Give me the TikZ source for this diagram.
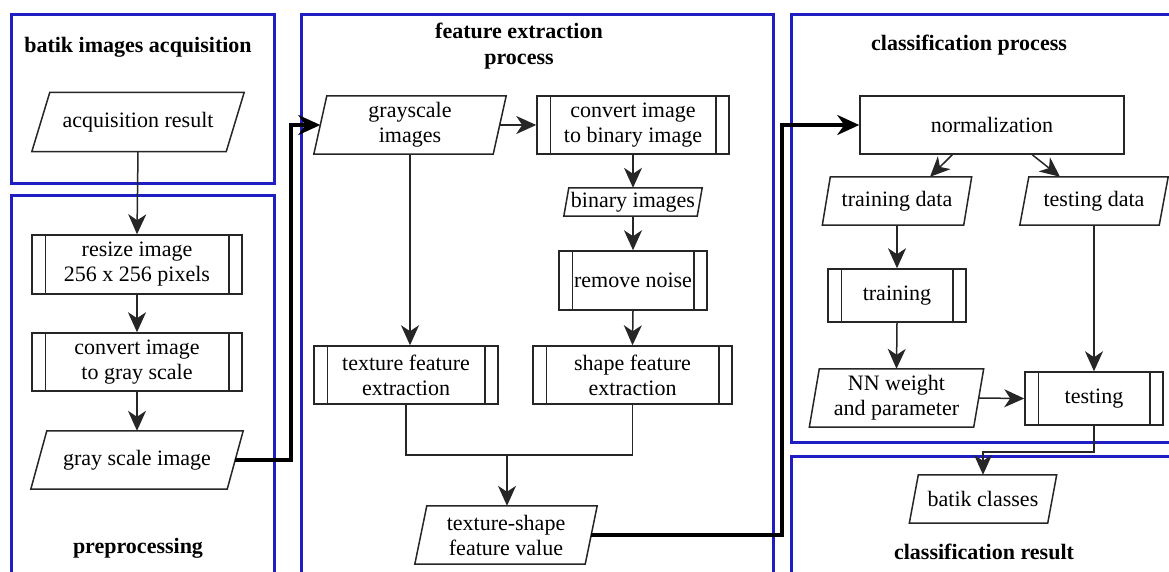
\documentclass[tikz,border=0pt]{standalone}
\usepackage{fontspec}
\setmainfont{Liberation Serif}
\usetikzlibrary{arrows.meta,calc}
\definecolor{frameblue}{RGB}{30,30,195}

% data (input/output) shape: a parallelogram leaning right
\newcommand\ioshape[7]{% name, x, y, width, height, slant, text
  \node[boxtext, minimum width=#4pt, minimum height=#5pt] (#1) at (#2,#3) {#7};
  \draw[shapeline] ($(#1.south west)+(-#6/2,0)$) -- ($(#1.north west)+(#6/2,0)$)
    -- ($(#1.north east)+(#6/2,0)$) -- ($(#1.south east)+(-#6/2,0)$) -- cycle;}

% predefined process: rectangle with doubled side edges
\newcommand\procbox[7]{% name, x, y, width, height, inset, text
  \node[boxtext, shapeline, draw, minimum width=#4pt, minimum height=#5pt] (#1) at (#2,#3) {#7};
  \draw[shapeline] ($(#1.north west)+(#6,0)$) -- ($(#1.south west)+(#6,0)$)
    ($(#1.north east)+(-#6,0)$) -- ($(#1.south east)+(-#6,0)$);}

\tikzset{
  frame/.style={draw=frameblue, line width=3pt},
  shapeline/.style={line width=1.5pt, draw=black!85},
  boxtext/.style={align=center, inner sep=1pt, font=\fontsize{22}{25}\selectfont},
  heading/.style={align=center, font=\fontsize{22}{26}\selectfont\bfseries},
  flow/.style={line width=1.5pt, draw=black!85,
    arrows={-Stealth[length=20pt, width=18pt, inset=6pt]}},
  bigflow/.style={line width=3.2pt,
    arrows={-Stealth[length=22pt, width=20pt, inset=7pt]}},
  plainline/.style={line width=1.5pt, draw=black!85},
}

\begin{document}
\begin{tikzpicture}[x=1pt, y=-1pt]
\useasboundingbox (0,0) rectangle (1169,571);
\fill[white] (0,0) rectangle (1169,571);
\clip (0,0) rectangle (1169,571);

% ---- group frames ----
\draw[frame] (11,14) rectangle (274,183);
\draw[frame] (11,195) rectangle (274,620);
\draw[frame] (301,14) rectangle (773,620);
\draw[frame] (791,14) rectangle (1220,442);
\draw[frame] (791,456) rectangle (1220,620);

% ---- headings ----
\node[heading] (hAcq) at (138,47) {batik images acquisition};
\node[heading] (hPre) at (138,548) {preprocessing};
\node[heading] (hFeat) at (519,46) {feature extraction\\process};
\node[heading] (hCls) at (969,45) {classification process};
\node[heading] (hRes) at (984,552) {classification result};

% ---- acquisition and preprocessing ----
\ioshape{acq}{138}{122}{194}{59}{18}{acquisition result}
\procbox{resize}{137}{264.5}{210}{59}{14}{resize image\\256 x 256 pixels}
\procbox{togray}{137}{362}{210}{58}{14}{convert image\\to gray scale}
\ioshape{gsi}{137}{460}{196}{58}{16}{gray scale image}

% ---- feature extraction ----
\ioshape{grayimgs}{410}{125}{179}{58}{13}{grayscale\\images}
\procbox{tobin}{633}{125}{192}{58}{14}{convert image\\to binary image}
\ioshape{binimgs}{633}{202}{133}{28}{5}{binary images}
\procbox{noise}{633}{280.5}{148}{59}{14}{remove noise}
\procbox{texture}{406}{375}{184}{58}{14}{texture feature\\extraction}
\procbox{shape}{632.5}{375}{199}{58}{14}{shape feature\\extraction}
\ioshape{tsfv}{506}{535}{170}{58}{12}{texture-shape\\feature value}

% ---- classification ----
\node[boxtext, shapeline, draw, minimum width=264pt, minimum height=58pt] (norm) at (992,125) {normalization};
\ioshape{trdata}{897}{201}{141}{48}{8}{training data}
\ioshape{tsdata}{1094}{201}{139}{48}{9}{testing data}
\procbox{training}{897}{295.5}{138}{53}{14}{training}
\ioshape{nn}{896.5}{398}{164}{58}{10}{NN weight\\and parameter}
\procbox{testing}{1094}{398.5}{138}{53}{14}{testing}
\ioshape{batik}{983}{499}{138}{48}{9}{batik classes}

% ---- routing points ----
\coordinate (jA) at (291,0);
\coordinate (jB) at (782,0);
\coordinate (merge) at (507,455);
\coordinate (jC) at (0,452);

% ---- connectors ----
\draw[flow] (acq.south) -- (resize.north);
\draw[flow] (resize.south) -- (togray.north);
\draw[flow] (togray.south) -- (gsi.north);
\draw[bigflow] (gsi.east) -- (gsi.east -| jA) |- (grayimgs.west);

\draw[flow] (grayimgs.east) -- (tobin.west);
\draw[flow] (tobin.south) -- (binimgs.north);
\draw[flow] (binimgs.south) -- (noise.north);
\draw[flow] (noise.south) -- (shape.north);
\draw[flow] (grayimgs.south) -- (grayimgs.south |- texture.north);
\draw[plainline] (texture.south) |- (merge) -| (shape.south);
\draw[flow] (merge) -- (merge |- tsfv.north);
\draw[bigflow] (tsfv.east) -- (tsfv.east -| jB) |- (norm.west);

\draw[flow] ($(norm.south west)+(93,0)$) -- ($(trdata.north)+(33,0)$);
\draw[flow] ($(norm.south west)+(173,0)$) -- ($(tsdata.north)+(-34,0)$);
\draw[flow] (trdata.south) -- (training.north);
\draw[flow] (training.south) -- (nn.north);
\draw[flow] (nn.east) -- (testing.west);
\draw[flow] (tsdata.south) -- (testing.north);
\draw[flow] (testing.south) -- (testing.south |- jC) -| (batik.north);
\end{tikzpicture}
\end{document}
